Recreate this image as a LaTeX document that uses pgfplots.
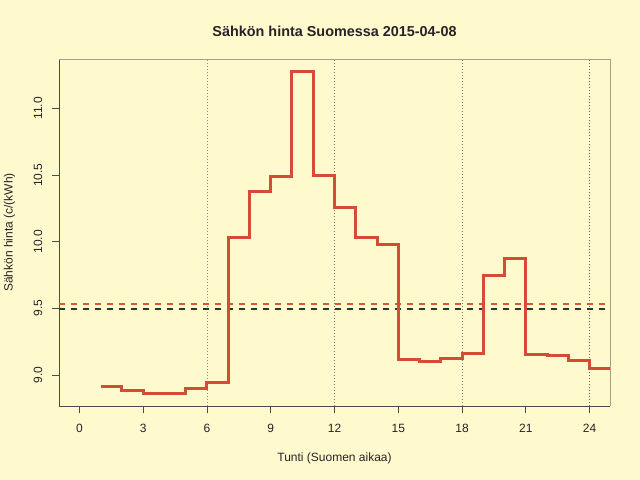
\documentclass[border=0pt]{standalone}
\usepackage{pgfplots}
\pgfplotsset{compat=1.18}
\usepackage{fontspec}
\setmainfont{Liberation Sans}
\definecolor{bg}{RGB}{255,250,205}
\definecolor{ln}{RGB}{212,76,54}
\definecolor{lnd}{RGB}{214,88,62}
\definecolor{boxc}{RGB}{165,160,140}
\definecolor{txt}{RGB}{40,34,40}
\begin{document}
\begin{tikzpicture}
\path[use as bounding box, fill=bg] (0,0) rectangle (640bp,480bp);
\begin{axis}[
  at={(59bp,74bp)}, anchor=south west,
  scale only axis, width=551bp, height=347bp,
  xmin=-0.96, xmax=24.96, ymin=8.767, ymax=11.371,
  axis x line*=bottom, axis y line*=left,
  axis line style={draw=black!70, line width=0.8bp, -},
  xtick={0,3,...,24}, ytick={9,9.5,10,10.5,11},
  tick align=outside, major tick length=7bp,
  tick style={draw=black!70, line width=0.8bp},
  /pgf/number format/assume math mode=true,
  yticklabel style={/pgf/number format/fixed, /pgf/number format/fixed zerofill, /pgf/number format/precision=1},
  every tick label/.append style={font=\fontsize{12bp}{14bp}\selectfont, text=txt},
  xticklabel style={anchor=center, yshift=-15bp},
  yticklabel style={rotate=90, anchor=center, yshift=14bp},
  xlabel={Tunti (Suomen aikaa)},
  ylabel={Sähkön hinta (c/(kWh)},
  label style={font=\fontsize{12bp}{14bp}\selectfont, text=txt},
  xlabel style={at={(axis description cs:0.5,-0.1499)}, anchor=center},
  ylabel style={at={(axis description cs:-0.0898,0.5)}, anchor=center},
  title={Sähkön hinta Suomessa 2015-04-08},
  title style={at={(axis description cs:0.5,1.0634)}, anchor=center,
    font=\bfseries\fontsize{14.4bp}{17bp}\selectfont, text=txt},
]
% vertical reference lines
\addplot[draw=black!45, line width=0.8bp, dash pattern=on 1bp off 2bp] coordinates {(6,8.5) (6,11.6)};
\addplot[draw=black!55, line width=0.8bp, dash pattern=on 1bp off 2bp] coordinates {(12,8.5) (12,11.6)};
\addplot[draw=black!55, line width=0.8bp, dash pattern=on 1bp off 2bp] coordinates {(18,8.5) (18,11.6)};
\addplot[draw=black!60, line width=0.8bp, dash pattern=on 1bp off 2bp] coordinates {(24,8.5) (24,11.6)};
% horizontal dashed lines
\addplot[draw=lnd, line width=1.5bp, dash pattern=on 6bp off 6bp] coordinates {(-0.96,9.533) (24.96,9.533)};
\addplot[draw=black!80, line width=1.6bp, dash pattern=on 6bp off 6bp] coordinates {(-0.96,9.497) (24.96,9.497)};
% price step line
\addplot[const plot, draw=ln, line width=3bp, line join=miter] table {
x y
1 8.912
2 8.882
3 8.863
4 8.863
5 8.895
6 8.942
7 10.035
8 10.373
9 10.488
10 11.275
11 10.495
12 10.260
13 10.035
14 9.978
15 9.113
16 9.103
17 9.122
18 9.160
19 9.743
20 9.872
21 9.155
22 9.148
23 9.107
24 9.050
25 9.050
};
\end{axis}
\draw[boxc, line width=0.8bp] (59bp,480bp-59bp) -- (610bp,480bp-59bp) -- (610bp,74bp);
\end{tikzpicture}
\end{document}
